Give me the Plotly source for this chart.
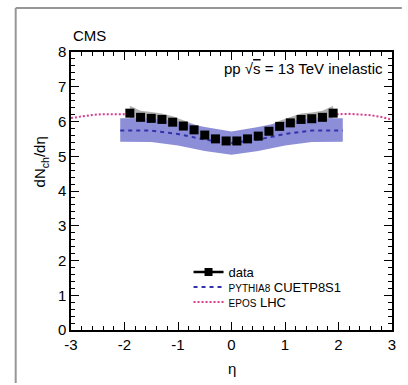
import plotly.graph_objects as go

# ---------------- data ----------------
eta = [-1.9, -1.7, -1.5, -1.3, -1.1, -0.9, -0.7, -0.5, -0.3, -0.1,
       0.1, 0.3, 0.5, 0.7, 0.9, 1.1, 1.3, 1.5, 1.7, 1.9]
dndeta = [6.24, 6.12, 6.09, 6.06, 5.98, 5.87, 5.76, 5.61, 5.50, 5.44,
          5.44, 5.50, 5.58, 5.72, 5.86, 5.96, 6.06, 6.08, 6.12, 6.24]
stat_err = [0.02] * 20
syst_err = [0.21, 0.19, 0.18, 0.17, 0.17, 0.16, 0.16, 0.15, 0.15, 0.15,
            0.15, 0.15, 0.15, 0.16, 0.16, 0.17, 0.17, 0.18, 0.19, 0.21]

eta_pythia = [-2.08, -1.5, -1.0, -0.5, 0.0, 0.5, 1.0, 1.5, 2.08]
pythia = [5.74, 5.74, 5.64, 5.48, 5.38, 5.48, 5.64, 5.74, 5.74]
pythia_lo = [5.42, 5.41, 5.31, 5.15, 5.04, 5.15, 5.31, 5.41, 5.42]
pythia_hi = [6.09, 6.09, 6.00, 5.84, 5.71, 5.84, 6.00, 6.09, 6.09]

eta_epos = [-3.0, -2.8, -2.6, -2.4, -2.2, -2.0, -1.5, -1.0, -0.5, 0.0,
            0.5, 1.0, 1.5, 2.0, 2.2, 2.4, 2.6, 2.8, 3.0]
epos = [6.10, 6.15, 6.19, 6.21, 6.22, 6.21, 6.10, 5.93, 5.66, 5.50,
        5.66, 5.93, 6.10, 6.21, 6.22, 6.21, 6.18, 6.13, 6.05]

x_range = [-3, 3]
y_range = [0, 8]
x_ticks = [-3, -2, -1, 0, 1, 2, 3]
x_ticktext = ["-3", "-2", "-1", "0", "1", "2", "3"]
y_ticks = [0, 1, 2, 3, 4, 5, 6, 7, 8]
y_ticktext = ["0", "1", "2", "3", "4", "5", "6", "7", "8"]

FONT = "Liberation Sans, Arial, Helvetica, sans-serif"
BLUE_BAND = "rgb(140,142,216)"
GRAY_BAND = "rgb(178,178,178)"
BLUE_LINE = "rgb(50,50,170)"
PINK_LINE = "rgb(214,60,140)"

fig = go.Figure()

fig.add_trace(go.Scatter(x=eta_epos, y=epos, mode="lines",
                         line=dict(color=PINK_LINE, width=2, dash="2px,2px"),
                         showlegend=False, hoverinfo="skip"))

up = [v + e for v, e in zip(dndeta, syst_err)]
lo = [v - e for v, e in zip(dndeta, syst_err)]
fig.add_trace(go.Scatter(x=eta + eta[::-1], y=up + lo[::-1], mode="lines",
                         fill="toself", fillcolor=GRAY_BAND,
                         line=dict(width=0, color=GRAY_BAND),
                         showlegend=False, hoverinfo="skip"))

fig.add_trace(go.Scatter(x=eta_pythia + eta_pythia[::-1],
                         y=pythia_hi + pythia_lo[::-1], mode="lines",
                         fill="toself", fillcolor=BLUE_BAND,
                         line=dict(width=0, color=BLUE_BAND),
                         showlegend=False, hoverinfo="skip"))

fig.add_trace(go.Scatter(x=eta_pythia, y=pythia, mode="lines",
                         line=dict(color=BLUE_LINE, width=2, dash="4px,4px"),
                         showlegend=False, hoverinfo="skip"))

fig.add_trace(go.Scatter(x=eta, y=dndeta, mode="markers",
                         marker=dict(symbol="square", size=9, color="black"),
                         error_y=dict(type="data", array=stat_err, color="black",
                                      thickness=1, width=0),
                         showlegend=False))

fig.add_trace(go.Scatter(x=[None], y=[None], mode="lines+markers", name="data",
                         marker=dict(symbol="square", size=8, color="black"),
                         line=dict(color="black", width=2.5), legend="legend"))
fig.add_trace(go.Scatter(x=[None], y=[None], mode="lines",
                         name="<span style='font-size:10px'>PYTHIA8</span> CUETP8S1",
                         line=dict(color=BLUE_LINE, width=2, dash="4px,4px"),
                         legend="legend2"))
fig.add_trace(go.Scatter(x=[None], y=[None], mode="lines",
                         name="<span style='font-size:10px'>EPOS</span> LHC",
                         line=dict(color=PINK_LINE, width=2, dash="2px,2px"),
                         legend="legend3"))

axis_common = dict(
    showgrid=False, zeroline=False, showline=True, linecolor="black",
    linewidth=1.5, mirror="allticks", ticks="inside", ticklen=8,
    tickwidth=1.3, tickcolor="black",
    tickfont=dict(family=FONT, size=15, color="black"),
)
fig.update_xaxes(range=x_range, tickvals=x_ticks, ticktext=x_ticktext, **axis_common,
                 minor=dict(dtick=0.2, ticklen=4, ticks="inside", tickcolor="black", tickwidth=1.2))
fig.update_yaxes(range=y_range, tickvals=y_ticks, ticktext=y_ticktext, **axis_common,
                 minor=dict(dtick=0.2, ticklen=4, ticks="inside", tickcolor="black", tickwidth=1.2))

L, R, T, B = 71, 12, 52, 55
W, H = 408, 385
pw, ph = W - L - R, H - T - B

def px(xp):
    return (xp - L) / pw

def py(yp):
    return (H - B - yp) / ph

def leg(ycenter):
    return dict(x=px(190), y=py(ycenter), xanchor="left", yanchor="middle",
                bgcolor="rgba(0,0,0,0)", font=dict(family=FONT, size=13, color="black"),
                itemwidth=30)

fig.update_layout(
    width=W, height=H,
    margin=dict(l=L, r=R, t=T, b=B),
    paper_bgcolor="white", plot_bgcolor="white",
    font=dict(family=FONT, color="black"),
    showlegend=True,
    legend=leg(272),
    legend2=leg(287),
    legend3=leg(302),
    annotations=[
        dict(text="CMS", x=px(71), y=py(46), xref="paper", yref="paper",
             xanchor="left", yanchor="bottom", showarrow=False,
             font=dict(family=FONT, size=15, color="black")),
        dict(text="pp √<span style='text-decoration:overline'>s</span> = 13 TeV inelastic",
             x=px(389), y=py(68), xref="paper", yref="paper",
             xanchor="right", yanchor="middle", showarrow=False,
             font=dict(family=FONT, size=15, color="black")),
        dict(text="dN<sub>ch</sub>/dη", x=px(40), y=py(162), xref="paper", yref="paper",
             xanchor="center", yanchor="middle", textangle=-90, showarrow=False,
             font=dict(family=FONT, size=15, color="black")),
        dict(text="η", x=px(234), y=py(368), xref="paper", yref="paper",
             xanchor="center", yanchor="middle", showarrow=False,
             font=dict(family=FONT, size=15, color="black")),
    ],
    shapes=[
        dict(type="line", xref="paper", yref="paper", x0=px(15), x1=px(15),
             y0=py(8), y1=py(H - 2), line=dict(color="rgb(150,150,150)", width=2)),
        dict(type="line", xref="paper", yref="paper", x0=px(15), x1=px(W - 2),
             y0=py(8), y1=py(8), line=dict(color="rgb(150,150,150)", width=2)),
    ],
)

fig.write_html(
    "out.html",
    post_script="document.documentElement.style.overflow='hidden';"
                "document.body.style.overflow='hidden';",
)
